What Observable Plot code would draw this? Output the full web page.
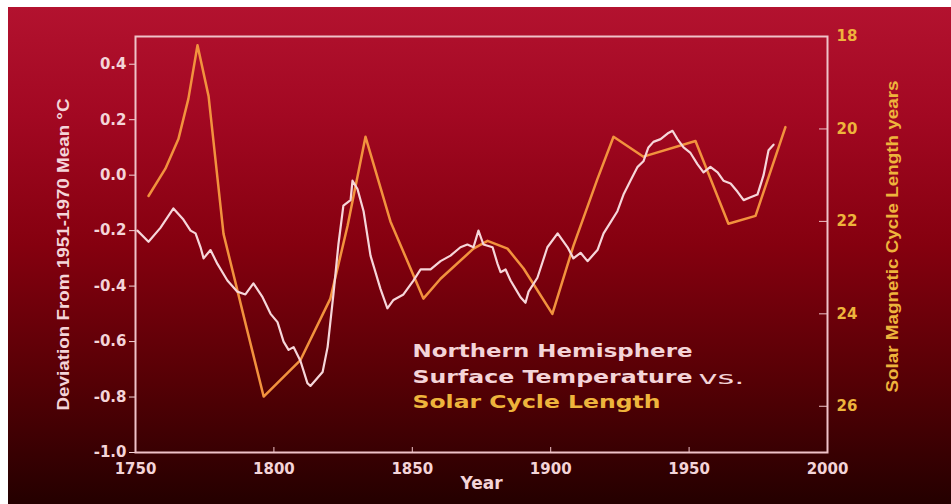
<!DOCTYPE html>
<html>
<head>
<meta charset="utf-8">
<script src="https://cdn.jsdelivr.net/npm/d3@7"></script>
<script src="https://cdn.jsdelivr.net/npm/@observablehq/plot@0.6"></script>
<style>
  html, body { margin: 0; padding: 0; background: #ffffff; }
  #chart {
    position: absolute; left: 8px; top: 7px; width: 943px; height: 497px;
    background: linear-gradient(to bottom, #b3122f 0%, #a20822 22%, #85000f 48%, #560005 75%, #240000 100%);
  }
  #chart svg { display: block; }
</style>
</head>
<body>
<div id="chart"></div>
<script>
// Northern Hemisphere surface temperature anomaly (deg C, vs 1951-1970 mean)
const tempYears = [
  1750.7,1754.7,1759.0,1763.7,1767.3,1769.9,1771.7,1773.5,1774.6,1777.1,
  1779.6,1783.2,1786.8,1789.7,1792.6,1795.9,1798.8,1801.3,1803.5,1805.3,
  1807.1,1809.6,1812.1,1813.2,1817.6,1819.4,1821.5,1823.3,1825.1,1827.7,
  1828.4,1830.2,1832.4,1834.9,1838.5,1841.0,1843.2,1846.8,1850.4,1853.0,
  1856.6,1860.2,1863.8,1867.4,1869.9,1872.1,1873.9,1875.7,1879.0,1880.8,
  1881.9,1883.7,1885.5,1887.3,1889.1,1890.9,1892.0,1895.2,1898.8,1902.5,
  1906.1,1908.2,1910.8,1913.3,1916.9,1919.1,1921.6,1924.1,1926.3,1928.8,
  1931.4,1933.5,1935.3,1937.1,1939.7,1942.2,1944.0,1945.8,1948.0,1950.5,
  1953.0,1955.2,1957.7,1960.3,1962.4,1965.0,1967.5,1969.7,1972.2,1974.7,
  1976.9,1978.7,1980.5
];
const tempValues = [
  -0.20,-0.24,-0.19,-0.12,-0.16,-0.20,-0.21,-0.26,-0.30,-0.27,
  -0.32,-0.38,-0.42,-0.43,-0.39,-0.44,-0.50,-0.53,-0.60,-0.63,
  -0.62,-0.67,-0.75,-0.76,-0.71,-0.62,-0.43,-0.25,-0.11,-0.09,
  -0.02,-0.05,-0.13,-0.29,-0.41,-0.48,-0.45,-0.43,-0.38,-0.34,
  -0.34,-0.31,-0.29,-0.26,-0.25,-0.26,-0.20,-0.25,-0.26,-0.32,
  -0.35,-0.34,-0.38,-0.41,-0.44,-0.46,-0.42,-0.37,-0.26,-0.21,
  -0.26,-0.30,-0.28,-0.31,-0.27,-0.21,-0.17,-0.13,-0.07,-0.02,
   0.03, 0.05, 0.10, 0.12, 0.13, 0.15, 0.16, 0.13, 0.10, 0.08,
   0.04, 0.01, 0.03, 0.01,-0.02,-0.03,-0.06,-0.09,-0.08,-0.07,
   0.00, 0.09, 0.11
];

// Solar magnetic cycle length (years)
const cycleYears = [
  1754.7,1760.8,1765.5,1769.1,1772.4,1776.4,1781.8,1790.2,1796.3,1809.6,
  1820.4,1826.6,1833.1,1842.1,1854.0,1860.2,1872.1,1877.2,1884.4,1890.2,
  1900.6,1908.2,1916.9,1922.7,1933.5,1952.3,1964.2,1974.0,1984.8
];
const cycleValues = [
  21.45,20.86,20.22,19.35,18.19,19.29,22.27,24.32,25.79,25.00,
  23.67,22.10,20.17,22.00,23.67,23.24,22.59,22.42,22.59,23.02,
  24.00,22.53,21.08,20.17,20.60,20.26,22.05,21.88,19.96
];

// Tick labels
const yearTicks = [1750, 1800, 1850, 1900, 1950, 2000];
const tempTicks = [0.4, 0.2, 0.0, -0.2, -0.4, -0.6, -0.8, -1.0];
const cycleTicks = [18, 20, 22, 24, 26];

// Text
const leftTitle = "Deviation From 1951-1970 Mean \u00B0C";
const rightTitle = "Solar Magnetic Cycle Length years";
const xTitle = "Year";
const legendLines = ["Northern Hemisphere", "Surface Temperature", "Solar Cycle Length"];
const legendVs = "vs.";

// Colours
const pale = "#f4d4d8";
const gold = "#eeb43c";
const frameColor = "#efc2c8";
const tempColor = "#f6d6da";
const cycleColor = "#f2923e";

// The right axis (cycle length, 18 at top, 27 at bottom) shares the
// temperature scale's pixel range (0.5 at top, -1.0 at bottom).
const cycleToTemp = c => 0.5 - (c - 18) / 6;
const tempToCycle = t => 18 + (0.5 - t) * 6;

const temps = tempYears.map((year, i) => ({year, value: tempValues[i]}));
const cycles = cycleYears.map((year, i) => ({year, value: cycleValues[i]}));

const font = "DejaVu Sans, Verdana, sans-serif";
const narrow = "Liberation Sans, Arial, sans-serif";

const chart = Plot.plot({
  width: 943,
  height: 497,
  marginLeft: 127,
  marginRight: 124,
  marginTop: 29,
  marginBottom: 52,
  style: {background: "transparent", fontFamily: font, fontWeight: "bold", fontSize: "15px", color: pale},
  x: {domain: [1750, 2000]},
  y: {domain: [-1, 0.5]},
  marks: [
    Plot.axisY({anchor: "left", ticks: tempTicks, tickFormat: d => d.toFixed(1), tickSize: 6, tickPadding: 3, color: pale, label: null}),
    Plot.axisY({anchor: "right", ticks: cycleTicks.map(cycleToTemp), tickFormat: t => String(Math.round(tempToCycle(t))), tickSize: 0, tickPadding: 9, color: gold, label: null}),
    Plot.axisX({anchor: "bottom", ticks: yearTicks, tickFormat: d => String(d), tickSize: 0, tickPadding: 11, color: pale, label: null}),
    // inward tick marks on the bottom and right edges
    Plot.tickX(yearTicks, {x: d => d, stroke: frameColor, strokeWidth: 1, insetTop: 411}),
    Plot.tickY(cycleTicks, {y: cycleToTemp, stroke: frameColor, strokeWidth: 1, insetLeft: 684}),
    Plot.frame({stroke: frameColor, strokeWidth: 2}),
    Plot.line(cycles, {x: "year", y: d => cycleToTemp(d.value), stroke: cycleColor, strokeWidth: 2.5, strokeLinejoin: "round"}),
    Plot.line(temps, {x: "year", y: "value", stroke: tempColor, strokeWidth: 2.2, strokeLinejoin: "round"}),
    // axis titles (rotated, read bottom to top, anchored at their start)
    Plot.text([leftTitle], {frameAnchor: "left", text: d => d, rotate: -90, textAnchor: "start", dx: -72, dy: 166, fill: pale, fontSize: 16, fontFamily: narrow, fontWeight: "bold"}),
    Plot.text([rightTitle], {frameAnchor: "right", text: d => d, rotate: -90, textAnchor: "start", dx: 65, dy: 148, fill: gold, fontSize: 16, fontFamily: narrow, fontWeight: "bold"}),
    Plot.text([xTitle], {frameAnchor: "bottom", text: d => d, dy: 36, fill: pale, fontSize: 17, fontWeight: "bold"}),
    // in-chart legend
    Plot.text([legendLines[0]], {frameAnchor: "top-left", text: d => d, textAnchor: "start", lineAnchor: "top", dx: 277, dy: 308, fill: pale, fontSize: 18, fontWeight: "bold"}),
    Plot.text([legendLines[1]], {frameAnchor: "top-left", text: d => d, textAnchor: "start", lineAnchor: "top", dx: 277, dy: 334, fill: pale, fontSize: 18, fontWeight: "bold"}),
    Plot.text([legendVs], {frameAnchor: "top-left", text: d => d, textAnchor: "start", lineAnchor: "top", dx: 563, dy: 335, fill: pale, fontSize: 17, fontWeight: "normal"}),
    Plot.text([legendLines[2]], {frameAnchor: "top-left", text: d => d, textAnchor: "start", lineAnchor: "top", dx: 277, dy: 359, fill: gold, fontSize: 18, fontWeight: "bold"})
  ]
});

// Stretch the wide display lettering to its set widths
const stretch = new Map([
  [leftTitle, 312], [rightTitle, 312],
  [legendLines[0], 280], [legendLines[1], 280], [legendLines[2], 248], [legendVs, 46]
]);
d3.select(chart).selectAll("text").each(function () {
  const len = stretch.get(this.textContent);
  if (len) {
    this.setAttribute("textLength", len);
    this.setAttribute("lengthAdjust", "spacingAndGlyphs");
  }
});

document.getElementById("chart").appendChild(chart);
</script>
</body>
</html>
